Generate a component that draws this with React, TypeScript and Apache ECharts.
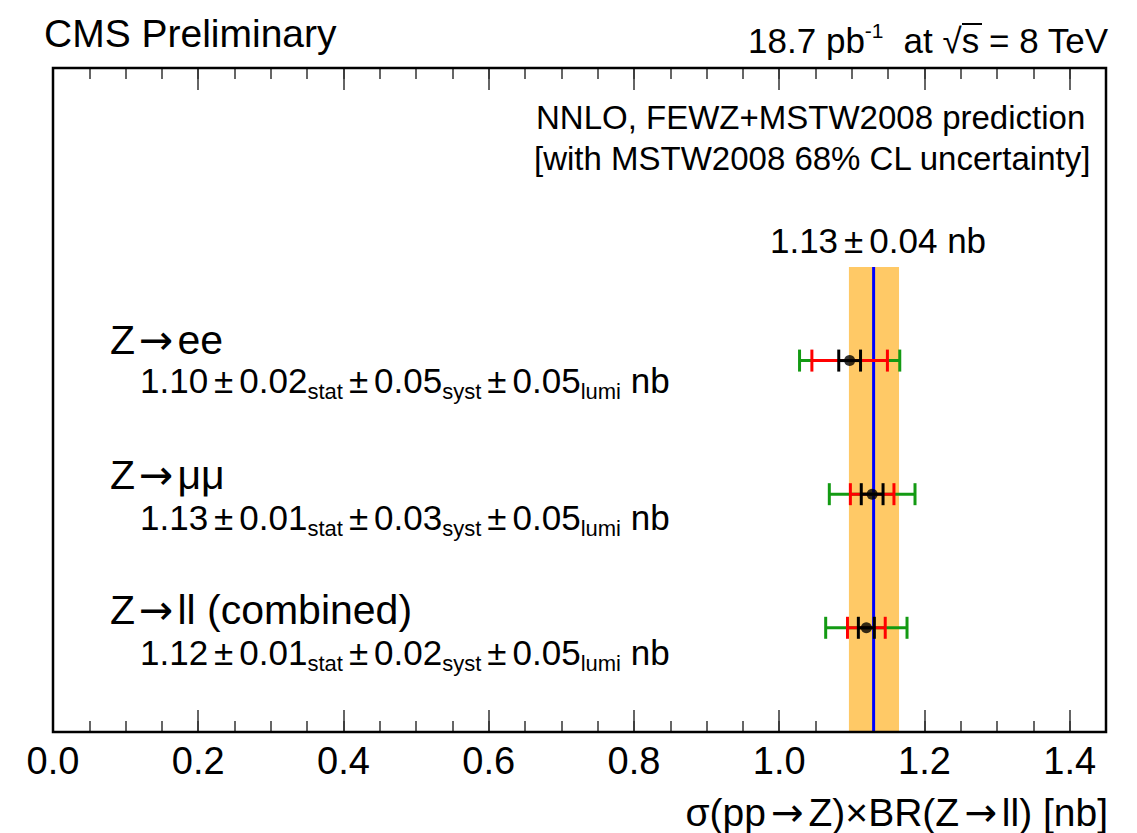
import React, { useEffect, useRef } from 'react';
import * as echarts from 'echarts';

// ---- data ----
const channelLabels = ['Z{a|→}ee', 'Z{a|→}μμ', 'Z{a|→}ll (combined)'];
const rowIndex = [3, 2, 1];
const centralValues = [1.097, 1.128, 1.120];
const statErr = [0.015, 0.015, 0.011];
const statSystErr = [0.052, 0.030, 0.026];
const totalErr = [0.069, 0.059, 0.056];
const quotedValue = ['1.10', '1.13', '1.12'];
const quotedStat = ['0.02', '0.01', '0.01'];
const quotedSyst = ['0.05', '0.03', '0.02'];
const quotedLumi = ['0.05', '0.05', '0.05'];

const theoryValue = 1.13;
const theoryErr = 0.04;
const theoryLow = 1.096;
const theoryHigh = 1.165;
const theoryTop = 3.7;

const xMin = 0;
const xMax = 1.45;
const xMajor = 0.2;
const xMinor = 0.05;
const yMin = 0.22;
const yMax = 5.19;

const FONT = 'Liberation Sans, Arial, Helvetica, sans-serif';
const ARROW_FONT = 'DejaVu Sans';
const GREEN = '#139a13';
const RED = '#ff0000';
const BLACK = '#000000';

export default function App() {
  const ref = useRef<HTMLDivElement>(null);
  useEffect(() => {
    if (!ref.current) return;
    const chart = echarts.init(ref.current, undefined, { renderer: 'svg' });

    const gridRect = { left: 53, right: 31, top: 68, bottom: 101 };

    const majorAxis = (position: 'top' | 'bottom', showLabel: boolean) => ({
      type: 'value',
      gridIndex: 0,
      position,
      min: xMin,
      max: xMax,
      interval: xMajor,
      axisLine: { show: false },
      splitLine: { show: false },
      axisTick: { show: true, inside: true, length: 22, lineStyle: { color: '#333', width: 1.5 } },
      axisLabel: {
        show: showLabel,
        fontSize: 38,
        fontFamily: FONT,
        color: '#000',
        margin: 10,
        showMaxLabel: false,
        formatter: (v: number) => v.toFixed(1),
      },
    });
    const minorAxis = (position: 'top' | 'bottom') => ({
      type: 'value',
      gridIndex: 1,
      position,
      min: xMin,
      max: xMax,
      interval: xMinor,
      axisLine: { show: false },
      splitLine: { show: false },
      axisTick: { show: true, inside: true, length: 11, lineStyle: { color: '#333', width: 1.5 } },
      axisLabel: { show: false },
    });

    const errData = centralValues.map((c, i) => [c, rowIndex[i], statErr[i], statSystErr[i], totalErr[i]]);

    const resultLine = (i: number) =>
      `{m|${quotedValue[i]}}{pm|±}{m|${quotedStat[i]}}{s|stat}{pm|±}{m|${quotedSyst[i]}}{s|syst}{pm|±}{m|${quotedLumi[i]}}{s|lumi}{m| nb}`;

    const labelY = [340, 475, 610];
    const resultY = [380, 517, 652];

    const arrowStyle = (size: number, pad: number) => ({ fontSize: size, fontFamily: ARROW_FONT, fill: '#000', verticalAlign: 'middle', padding: [0, pad, 0, pad] });

    const graphics: any[] = [
      {
        type: 'text', x: 44, y: 33,
        style: { text: 'CMS Preliminary', fontSize: 39, fontFamily: FONT, fill: '#000', align: 'left', verticalAlign: 'middle' },
      },
      {
        type: 'text', x: 1108, y: 40,
        style: {
          text: '{m|18.7 pb}{p|-1}{m|  at √s = 8 TeV}',
          fontFamily: FONT, fill: '#000', align: 'right', verticalAlign: 'middle',
          rich: {
            m: { fontSize: 35, fontFamily: FONT, fill: '#000', verticalAlign: 'middle' },
            p: { fontSize: 21, fontFamily: FONT, fill: '#000', verticalAlign: 'middle', padding: [0, 0, 20, 0] },
          },
        },
      },
      {
        type: 'line',
        shape: { x1: 962, y1: 24, x2: 982, y2: 24 },
        style: { stroke: '#000', lineWidth: 2 },
      },
      {
        type: 'text', x: 536, y: 117,
        style: { text: 'NNLO, FEWZ+MSTW2008 prediction', fontSize: 33, fontFamily: FONT, fill: '#000', align: 'left', verticalAlign: 'middle' },
      },
      {
        type: 'text', x: 534, y: 158,
        style: { text: '[with MSTW2008 68% CL uncertainty]', fontSize: 33, fontFamily: FONT, fill: '#000', align: 'left', verticalAlign: 'middle' },
      },
      {
        type: 'text', x: 878, y: 240,
        style: {
          text: `{m|${theoryValue.toFixed(2)}}{pm|±}{m|${theoryErr.toFixed(2)} nb}`,
          fontFamily: FONT, fill: '#000', align: 'center', verticalAlign: 'middle',
          rich: {
            m: { fontSize: 35, fontFamily: FONT, fill: '#000', verticalAlign: 'middle' },
            pm: { fontSize: 35, fontFamily: FONT, fill: '#000', verticalAlign: 'middle', padding: [0, 6, 0, 6] },
          },
        },
      },
      {
        type: 'text', x: 1108, y: 812,
        style: {
          text: '{m|σ(pp}{a|→}{m|Z)×BR(Z}{a|→}{m|ll) [nb]}',
          fontFamily: FONT, fill: '#000', align: 'right', verticalAlign: 'middle',
          rich: {
            m: { fontSize: 39, fontFamily: FONT, fill: '#000', verticalAlign: 'middle' },
            a: arrowStyle(39, 5),
          },
        },
      },
    ];
    channelLabels.forEach((lab, i) => {
      graphics.push({
        type: 'text', x: 110, y: labelY[i],
        style: {
          text: `{m|${lab.replace('{a|→}', '}{a|→}{m|')}}`,
          fontFamily: FONT, fill: '#000', align: 'left', verticalAlign: 'middle',
          rich: {
            m: { fontSize: 41, fontFamily: FONT, fill: '#000', verticalAlign: 'middle' },
            a: arrowStyle(41, 4),
          },
        },
      });
      graphics.push({
        type: 'text', x: 140, y: resultY[i],
        style: {
          text: resultLine(i),
          fontFamily: FONT, fill: '#000', align: 'left', verticalAlign: 'middle',
          rich: {
            m: { fontSize: 35, fontFamily: FONT, fill: '#000', verticalAlign: 'middle' },
            pm: { fontSize: 35, fontFamily: FONT, fill: '#000', verticalAlign: 'middle', padding: [0, 6, 0, 6] },
            s: { fontSize: 22, fontFamily: FONT, fill: '#000', verticalAlign: 'middle', padding: [22, 0, 0, 0] },
          },
        },
      });
    });

    const option: any = {
      animation: false,
      backgroundColor: '#fff',
      grid: [
        { ...gridRect, show: true, borderColor: '#000', borderWidth: 2.5, backgroundColor: 'transparent', z: 10 },
        { ...gridRect, show: false },
      ],
      xAxis: [majorAxis('bottom', true), majorAxis('top', false), minorAxis('bottom'), minorAxis('top')],
      yAxis: [
        { type: 'value', gridIndex: 0, min: yMin, max: yMax, show: false, splitLine: { show: false } },
        { type: 'value', gridIndex: 1, min: yMin, max: yMax, show: false, splitLine: { show: false } },
      ],
      series: [
        {
          type: 'custom',
          xAxisIndex: 0,
          yAxisIndex: 0,
          z: 1,
          data: [[theoryLow, theoryHigh, theoryValue, theoryTop]],
          renderItem: (params: any, api: any) => {
            const lo = api.value(0), hi = api.value(1), c = api.value(2), top = api.value(3);
            const p1 = api.coord([lo, top]);
            const p2 = api.coord([hi, yMin]);
            const t = api.coord([c, top]);
            const b = api.coord([c, yMin]);
            return {
              type: 'group',
              children: [
                { type: 'rect', shape: { x: p1[0], y: p1[1], width: p2[0] - p1[0], height: p2[1] - p1[1] }, style: { fill: '#ffc966' } },
                { type: 'line', shape: { x1: t[0], y1: t[1], x2: b[0], y2: b[1] }, style: { stroke: '#0000ff', lineWidth: 3 } },
              ],
            };
          },
        },
        {
          type: 'custom',
          xAxisIndex: 0,
          yAxisIndex: 0,
          z: 3,
          data: errData,
          renderItem: (params: any, api: any) => {
            const c = api.value(0), r = api.value(1);
            const levels: [number, string][] = [
              [api.value(4), GREEN],
              [api.value(3), RED],
              [api.value(2), BLACK],
            ];
            const children: any[] = [];
            levels.forEach(([e, col]) => {
              const l = api.coord([c - e, r]);
              const rr = api.coord([c + e, r]);
              children.push({ type: 'line', shape: { x1: l[0], y1: l[1], x2: rr[0], y2: rr[1] }, style: { stroke: col, lineWidth: 3 } });
              children.push({ type: 'line', shape: { x1: l[0], y1: l[1] - 11, x2: l[0], y2: l[1] + 11 }, style: { stroke: col, lineWidth: 3 } });
              children.push({ type: 'line', shape: { x1: rr[0], y1: rr[1] - 11, x2: rr[0], y2: rr[1] + 11 }, style: { stroke: col, lineWidth: 3 } });
            });
            return { type: 'group', children };
          },
        },
        {
          type: 'scatter',
          xAxisIndex: 0,
          yAxisIndex: 0,
          z: 4,
          symbol: 'circle',
          symbolSize: 11,
          itemStyle: { color: '#000' },
          data: centralValues.map((c, i) => [c, rowIndex[i]]),
        },
      ],
      graphic: graphics,
    };
    chart.setOption(option);
    return () => chart.dispose();
  }, []);
  return <div ref={ref} style={{ position: 'fixed', left: 0, top: 0, width: 1137, height: 833, background: '#fff' }} />;
}
